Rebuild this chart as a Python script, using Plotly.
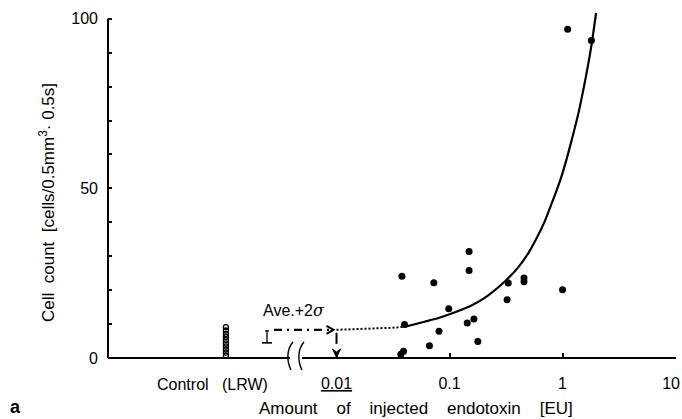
import math
import plotly.graph_objects as go

# ---------------- data ----------------
endotoxin_eu = [0.0379, 0.149, 0.149, 0.0726, 0.331, 0.456, 0.456, 1.0, 0.323, 0.0984,
                0.0400, 0.1435, 0.1644, 0.0807, 0.178, 0.0664, 0.0392, 0.0371, 1.11, 1.80]
cell_count = [24.1, 31.4, 25.8, 22.2, 22.1, 23.6, 22.5, 20.1, 17.2, 14.5,
              9.9, 10.3, 11.5, 7.9, 4.9, 3.6, 2.0, 1.1, 96.9, 93.6]

control_x = [0.00105] * 10
control_counts = [0.7, 1.6, 2.5, 3.4, 4.3, 5.3, 6.2, 7.1, 8.1, 9.1]

curve_dotted_x = [0.01, 0.02, 0.03, 0.0404]
curve_dotted_y = [8.3, 8.6, 8.9, 9.2]
curve_x = [0.0404, 0.06, 0.08, 0.1, 0.15, 0.2, 0.3, 0.4, 0.5, 0.6, 0.7, 0.8, 0.9, 1.0,
           1.2, 1.4, 1.6, 1.8, 1.98]
curve_y = [9.2, 10.7, 11.8, 12.9, 15.2, 17.5, 22.2, 26.5, 31.0, 35.8, 40.5, 45.5, 50.0, 54.5,
           64.0, 73.0, 82.5, 92.0, 101.7]

ave_2sigma = 8.3
threshold_eu = 0.01

NB = "\u00a0"
x_tickvals = [0.01, 0.1, 1, 10]
x_ticktext = ["<u>0.01</u>", "0.1", "1", "10" + NB * 2]
y_tickvals = list(range(0, 101, 10))
y_ticktext = [str(v) if v % 50 == 0 else "" for v in y_tickvals]

# ---------------- layout geometry ----------------
W, H = 682, 419
ML, MR, MT, MB = 108, 6, 12, 61
PW, PH = W - ML - MR, H - MT - MB
XR = [-4.022, 1.004]
YR = [0, 102]
FONT = "Liberation Sans, Arial, sans-serif"


def fx(v):   # data x -> paper
    return (math.log10(v) - XR[0]) / (XR[1] - XR[0])


def fy(v):   # data y -> paper
    return (v - YR[0]) / (YR[1] - YR[0])


def px(p):   # pixel x -> paper
    return (p - ML) / PW


def py(p):   # pixel y -> paper
    return (H - MB - p) / PH


fig = go.Figure()

fig.add_trace(go.Scatter(x=curve_dotted_x, y=curve_dotted_y, mode="lines",
                         line=dict(color="black", width=2, dash="2px,2px"),
                         hoverinfo="skip", showlegend=False))
fig.add_trace(go.Scatter(x=curve_x, y=curve_y, mode="lines",
                         line=dict(color="black", width=2.2, shape="spline", smoothing=0.6),
                         cliponaxis=False, showlegend=False))
fig.add_trace(go.Scatter(x=endotoxin_eu, y=cell_count, mode="markers",
                         marker=dict(color="black", size=7), cliponaxis=False,
                         showlegend=False))
fig.add_trace(go.Scatter(x=control_x, y=control_counts, mode="markers",
                         marker=dict(symbol="circle-open", color="black", size=5,
                                     line=dict(width=1.3, color="black")),
                         cliponaxis=False, showlegend=False))

shapes = []
# axis lines (with break)
brk_l, brk_r = px(290), px(302)
shapes.append(dict(type="line", xref="paper", yref="paper", x0=0, x1=brk_l, y0=0, y1=0,
                   line=dict(color="black", width=2)))
shapes.append(dict(type="line", xref="paper", yref="paper", x0=brk_r, x1=1, y0=0, y1=0,
                   line=dict(color="black", width=2)))
shapes.append(dict(type="line", xref="paper", yref="paper", x0=0, x1=0, y0=0, y1=fy(100),
                   line=dict(color="black", width=2)))
# break waves
for cx in (290, 301):
    path = "M {:.5f},{:.5f} C {:.5f},{:.5f} {:.5f},{:.5f} {:.5f},{:.5f}".format(
        px(cx + 3), py(342), px(cx - 4), py(350), px(cx - 3), py(362), px(cx + 1), py(370))
    shapes.append(dict(type="path", xref="paper", yref="paper", path=path,
                       line=dict(color="black", width=1.4)))

# Ave.+2sigma marker, dash-dot arrow
y_ave = fy(ave_2sigma)
x_thr = fx(threshold_eu)
yp_ave = H - MB - y_ave * PH
xp_thr = ML + x_thr * PW
shapes.append(dict(type="line", xref="paper", yref="paper", x0=px(267), x1=px(267),
                   y0=py(yp_ave + 1), y1=py(yp_ave + 13), line=dict(color="black", width=1.3)))
shapes.append(dict(type="line", xref="paper", yref="paper", x0=px(265), x1=px(269),
                   y0=py(yp_ave + 1), y1=py(yp_ave + 1), line=dict(color="black", width=1.3)))
shapes.append(dict(type="line", xref="paper", yref="paper", x0=px(262), x1=px(272),
                   y0=py(yp_ave + 13), y1=py(yp_ave + 13), line=dict(color="black", width=1.6)))
shapes.append(dict(type="line", xref="paper", yref="paper", x0=px(274), x1=px(xp_thr - 4),
                   y0=y_ave, y1=y_ave, line=dict(color="black", width=2.4, dash="8px,5px,2px,5px")))
shapes.append(dict(type="path", xref="paper", yref="paper",
                   path="M {:.5f},{:.5f} L {:.5f},{:.5f} L {:.5f},{:.5f}".format(
                       px(xp_thr - 10), py(yp_ave - 4), px(xp_thr - 3), y_ave,
                       px(xp_thr - 10), py(yp_ave + 4)),
                   line=dict(color="black", width=2)))
# vertical dashed arrow down to the axis
shapes.append(dict(type="line", xref="paper", yref="paper", x0=x_thr, x1=x_thr,
                   y0=py(yp_ave + 3), y1=py(yp_ave + 14), line=dict(color="black", width=2)))
shapes.append(dict(type="path", xref="paper", yref="paper",
                   path="M {:.5f},{:.5f} L {:.5f},{:.5f} L {:.5f},{:.5f} L {:.5f},{:.5f} Z".format(
                       px(xp_thr - 4), py(349), x_thr, py(357.5), px(xp_thr + 4), py(349),
                       x_thr, py(352)),
                   fillcolor="black", line=dict(color="black", width=1)))


def ann(text, xp, yp, size, angle=0):
    return dict(text=text, xref="paper", yref="paper", x=px(xp), y=py(yp), showarrow=False,
                xanchor="center", yanchor="middle", textangle=angle,
                font=dict(family=FONT, size=size, color="black"))


annotations = [
    ann("Ave.+2<i><span style='font-family:DejaVu Serif'>σ</span></i>", 294, 310, 16),
    ann("Control" + NB * 3 + "(LRW)", 212, 384, 16),
    ann((NB * 4).join(["Amount", "of", "injected", "endotoxin", "[EU]"]), 416, 408, 17),
    ann((NB * 2).join(["Cell", "count", "[cells/0.5mm<sup>3</sup>·" + NB + "0.5s]"]),
        47, 203, 17, -90),
    ann("<b>a</b>", 15, 407, 18),
]

fig.update_layout(
    width=W, height=H, margin=dict(l=ML, r=MR, t=MT, b=MB, autoexpand=False),
    paper_bgcolor="white", plot_bgcolor="white",
    shapes=shapes, annotations=annotations,
    font=dict(family=FONT, size=16, color="black"),
    xaxis=dict(type="log", range=XR, tickvals=x_tickvals, ticktext=x_ticktext,
               ticks="inside", ticklen=5, tickwidth=1.5, tickcolor="black",
               showline=False, showgrid=False, zeroline=False, ticklabelstandoff=14,
               ticklabeloverflow="allow", automargin=False,
               tickfont=dict(family=FONT, size=16, color="black")),
    yaxis=dict(range=YR, tickvals=y_tickvals, ticktext=y_ticktext,
               ticks="inside", ticklen=4, tickwidth=1.5, tickcolor="black",
               showline=False, showgrid=False, zeroline=False, ticklabelstandoff=9,
               automargin=False,
               tickfont=dict(family=FONT, size=16, color="black")),
)

fig.write_html("out.html")
